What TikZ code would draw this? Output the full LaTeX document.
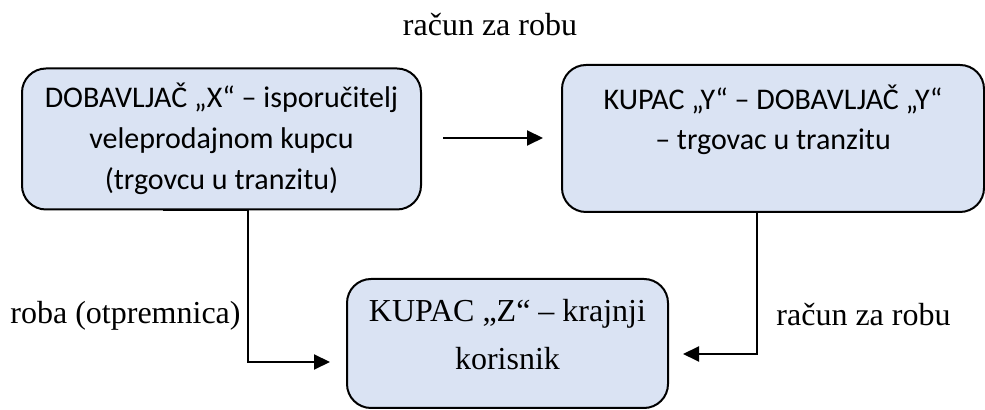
\documentclass[tikz,border=0pt]{standalone}
\usepackage{fontspec}
\setmainfont{Liberation Serif}
\newfontfamily\calibri{Carlito}
\usetikzlibrary{arrows.meta}
\definecolor{boxFill}{HTML}{DAE3F3}
\begin{document}
\begin{tikzpicture}
[x=0.5pt,y=-0.5pt,
  boxDecorate/.style={draw,line width=1pt,fill=boxFill,rounded corners=12pt,align=center,inner sep=0pt},
  lineDecorate/.style={-{Triangle[length=8pt,width=7.5pt]},line width=1pt},
  labelDecorate/.style={font=\fontsize{16}{19}\selectfont,inner sep=0pt}]
\useasboundingbox (0,0) rectangle (985,410);
%% boxes
\node (boxA) at (221.5,139) [boxDecorate,minimum width=199.5pt,minimum height=70.5pt,
  font=\calibri\fontsize{15}{20.5}\selectfont]
  {DOBAVLJAČ „X“ – isporučitelj\\veleprodajnom kupcu\\(trgovcu u tranzitu)};
\node (boxB) at (773,138.5) [boxDecorate,minimum width=211pt,minimum height=73.5pt,
  text depth=21.5pt,font=\calibri\fontsize{15}{20}\selectfont]
  {KUPAC „Y“ – DOBAVLJAČ „Y“\\– trgovac u tranzitu};
\node (boxC) at (507.5,343.5) [boxDecorate,minimum width=160.5pt,minimum height=64.5pt,
  text depth=9.5pt,font=\fontsize{16}{24}\selectfont]
  {KUPAC „Z“ – krajnji\\korisnik};
%% labels
\foreach \name/\x/\y/\txt in {
  billTop/490/25/račun za robu,
  goodsSide/125.5/316/roba (otpremnica),
  billSide/863.5/315/račun za robu}
{
  \node (\name) at (\x,\y) [labelDecorate] {\txt};
}
%% connectors
\coordinate (billStart) at (443,138);
\coordinate (billEnd) at (543,138);
\coordinate (goodsStart) at (163,0);
\coordinate (goodsTurn) at (248,362);
\coordinate (goodsEnd) at (330,362);
\coordinate (sideTurn) at (757,354);
\coordinate (sideEnd) at (683,354);
\draw[lineDecorate] (billStart) -- (billEnd);
\draw[lineDecorate] (boxA.south -| goodsStart) -- (boxA.south -| goodsTurn) -- (goodsTurn) -- (goodsEnd);
\draw[lineDecorate] (boxB.south -| sideTurn) -- (sideTurn) -- (sideEnd);
\end{tikzpicture}
\end{document}
